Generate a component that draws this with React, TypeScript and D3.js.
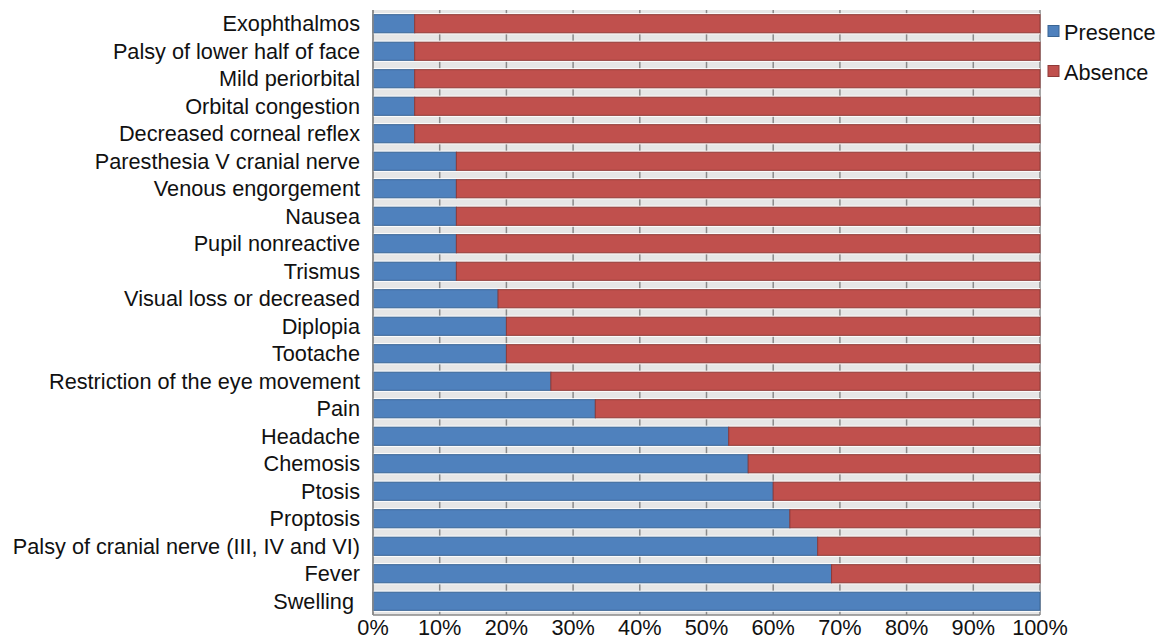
import React from "react";
import * as d3 from "d3";

const categories = [
  "Exophthalmos",
  "Palsy of lower half of face",
  "Mild periorbital",
  "Orbital congestion",
  "Decreased corneal reflex",
  "Paresthesia V cranial nerve",
  "Venous engorgement",
  "Nausea",
  "Pupil nonreactive",
  "Trismus",
  "Visual loss or decreased",
  "Diplopia",
  "Tootache",
  "Restriction of the eye movement",
  "Pain",
  "Headache",
  "Chemosis",
  "Ptosis",
  "Proptosis",
  "Palsy of cranial nerve (III, IV and VI)",
  "Fever",
  "Swelling\u00a0",
];
const presence = [6.25, 6.25, 6.25, 6.25, 6.25, 12.5, 12.5, 12.5, 12.5, 12.5, 18.75, 20, 20, 26.67, 33.33, 53.33, 56.25, 60, 62.5, 66.67, 68.75, 100];
const absence = presence.map((p) => 100 - p);
const xTicks = [0, 10, 20, 30, 40, 50, 60, 70, 80, 90, 100];
const seriesNames = ["Presence", "Absence"];
const colors = ["#4f81bd", "#c0504d"];
const strokes = ["#3a6594", "#8f3a38"];

export default function App() {
  const W = 1159, H = 640;
  const left = 373, right = 1040, top = 10, bottom = 615;
  const x = d3.scaleLinear().domain([0, 100]).range([left, right]);
  const y = d3.scaleBand().domain(categories).range([top, bottom]).paddingInner(0.34).paddingOuter(0.17);
  const font = "'Liberation Sans', Arial, sans-serif";
  const fs = 21.7;
  return (
    <svg width={W} height={H} style={{ position: "absolute", left: 0, top: 0 }} fontFamily={font}>
      <rect x={left} y={top} width={right - left} height={bottom - top} fill="#e6e6e6" />
      {xTicks.map((t) => (
        <line key={t} x1={x(t)} x2={x(t)} y1={top} y2={bottom} stroke="#8a8a8a" strokeWidth={1.5} />
      ))}
      {categories.map((c, i) => {
        const y0 = y(c)!;
        const h = y.bandwidth();
        const segs = [
          [0, presence[i]],
          [presence[i], presence[i] + absence[i]],
        ];
        return (
          <g key={c}>
            <rect x={left} y={y0 - 1.5} width={right - left} height={h + 3} fill="#ffffff" />
            {segs.map(([a, b], k) =>
              b - a > 0 ? (
                <rect key={k} x={x(a)} y={y0} width={x(b) - x(a)} height={h} fill={colors[k]} stroke={strokes[k]} strokeWidth={1} />
              ) : null
            )}
            <text x={360} y={y0 + h / 2} textAnchor="end" dominantBaseline="central" fontSize={fs} fill="#111">
              {c}
            </text>
          </g>
        );
      })}
      <line x1={left} x2={left} y1={top} y2={bottom} stroke="#8a8a8a" strokeWidth={1.5} />
      <line x1={left} x2={right} y1={bottom} y2={bottom} stroke="#8a8a8a" strokeWidth={1.5} />
      {xTicks.map((t) => (
        <text key={t} x={x(t)} y={635} textAnchor="middle" fontSize={fs} fill="#111">
          {t}%
        </text>
      ))}
      {seriesNames.map((s, k) => (
        <g key={s}>
          <rect x={1048} y={25.5 + k * 40} width={11} height={11} fill={colors[k]} stroke={strokes[k]} strokeWidth={1} />
          <text x={1064} y={32 + k * 40} dominantBaseline="central" fontSize={fs} fill="#111">
            {s}
          </text>
        </g>
      ))}
    </svg>
  );
}
